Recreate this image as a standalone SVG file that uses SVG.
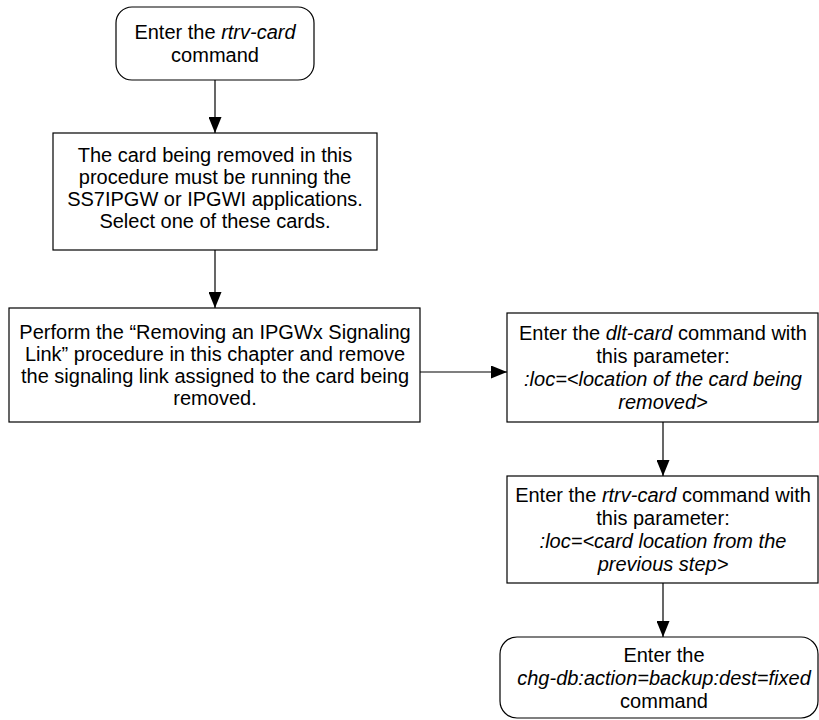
<svg xmlns="http://www.w3.org/2000/svg" width="819" height="720" viewBox="0 0 819 720">
<style>
.box{fill:#fff;stroke:#000;stroke-width:1.2}
text{font-family:"Liberation Sans",Arial,sans-serif;font-size:20px;fill:#000;text-anchor:middle}
.i{font-style:italic}
.c{fill:none;stroke:#000;stroke-width:1.2}
</style>
<defs>
<marker id="ah" markerWidth="16" markerHeight="13" refX="16" refY="6.5" viewBox="0 0 16 13" markerUnits="userSpaceOnUse" orient="auto">
<path d="M0,0 L16,6.5 L0,13 Z" fill="#000"/>
</marker>
</defs>
<rect width="819" height="720" fill="#fff"/>
<g id="connectors">
<line class="c" x1="215" y1="80" x2="215" y2="133" marker-end="url(#ah)"/>
<line class="c" x1="215" y1="250" x2="215" y2="308" marker-end="url(#ah)"/>
<line class="c" x1="420" y1="372" x2="507" y2="372" marker-end="url(#ah)"/>
<line class="c" x1="663" y1="422" x2="663" y2="476" marker-end="url(#ah)"/>
<line class="c" x1="663" y1="583" x2="663" y2="637" marker-end="url(#ah)"/>
</g>
<g id="n1">
<rect class="box" x="116" y="7" width="198" height="73" rx="16"/>
<text x="215" y="39">Enter the <tspan class="i">rtrv-card</tspan></text>
<text x="215" y="62">command</text>
</g>
<g id="n2">
<rect class="box" x="53" y="133" width="324" height="117"/>
<text x="215" y="162">The card being removed in this</text>
<text x="215" y="184">procedure must be running the</text>
<text x="215" y="206">SS7IPGW or IPGWI applications.</text>
<text x="215" y="228">Select one of these cards.</text>
</g>
<g id="n3">
<rect class="box" x="9" y="308" width="411" height="114"/>
<text x="215" y="339">Perform the “Removing an IPGWx Signaling</text>
<text x="215" y="361">Link” procedure in this chapter and remove</text>
<text x="215" y="383">the signaling link assigned to the card being</text>
<text x="215" y="405">removed.</text>
</g>
<g id="n4">
<rect class="box" x="507" y="313" width="311" height="109"/>
<text x="663" y="340">Enter the <tspan class="i">dlt-card</tspan> command with</text>
<text x="663" y="363">this parameter:</text>
<text x="663" y="386" class="i">:loc=&lt;location of the card being</text>
<text x="663" y="409" class="i">removed&gt;</text>
</g>
<g id="n5">
<rect class="box" x="507" y="476" width="311" height="107"/>
<text x="663" y="502">Enter the <tspan class="i">rtrv-card</tspan> command with</text>
<text x="663" y="525">this parameter:</text>
<text x="663" y="548" class="i">:loc=&lt;card location from the</text>
<text x="663" y="571" class="i">previous step&gt;</text>
</g>
<g id="n6">
<rect class="box" x="500" y="637" width="318" height="81" rx="17"/>
<text x="664" y="662">Enter the</text>
<text x="664" y="685" class="i">chg-db:action=backup:dest=fixed</text>
<text x="664" y="708">command</text>
</g>
</svg>
